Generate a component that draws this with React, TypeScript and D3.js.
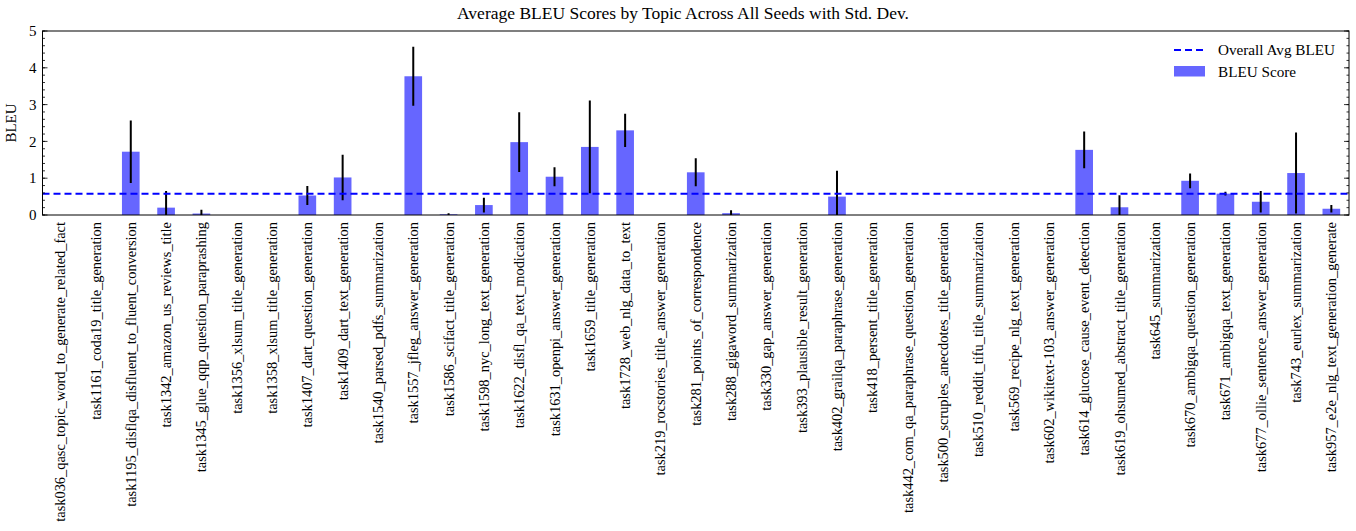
import * as d3 from 'd3';

const topics = [
  'task036_qasc_topic_word_to_generate_related_fact',
  'task1161_coda19_title_generation',
  'task1195_disflqa_disfluent_to_fluent_conversion',
  'task1342_amazon_us_reviews_title',
  'task1345_glue_qqp_question_paraprashing',
  'task1356_xlsum_title_generation',
  'task1358_xlsum_title_generation',
  'task1407_dart_question_generation',
  'task1409_dart_text_generation',
  'task1540_parsed_pdfs_summarization',
  'task1557_jfleg_answer_generation',
  'task1586_scifact_title_generation',
  'task1598_nyc_long_text_generation',
  'task1622_disfl_qa_text_modication',
  'task1631_openpi_answer_generation',
  'task1659_title_generation',
  'task1728_web_nlg_data_to_text',
  'task219_rocstories_title_answer_generation',
  'task281_points_of_correspondence',
  'task288_gigaword_summarization',
  'task330_gap_answer_generation',
  'task393_plausible_result_generation',
  'task402_grailqa_paraphrase_generation',
  'task418_persent_title_generation',
  'task442_com_qa_paraphrase_question_generation',
  'task500_scruples_anecdotes_title_generation',
  'task510_reddit_tifu_title_summarization',
  'task569_recipe_nlg_text_generation',
  'task602_wikitext-103_answer_generation',
  'task614_glucose_cause_event_detection',
  'task619_ohsumed_abstract_title_generation',
  'task645_summarization',
  'task670_ambigqa_question_generation',
  'task671_ambigqa_text_generation',
  'task677_ollie_sentence_answer_generation',
  'task743_eurlex_summarization',
  'task957_e2e_nlg_text_generation_generate',
];

const bleu = [
  0, 0, 1.72, 0.2, 0.04, 0, 0, 0.53, 1.02, 0, 3.77, 0.02, 0.27, 1.98, 1.04, 1.85, 2.3, 0,
  1.16, 0.05, 0, 0, 0.5, 0, 0, 0, 0, 0, 0, 1.77, 0.21, 0, 0.93, 0.58, 0.36, 1.14, 0.17,
];

const bleuStd = [
  0, 0, 0.85, 0.45, 0.1, 0, 0, 0.26, 0.62, 0, 0.8, 0.03, 0.2, 0.81, 0.26, 1.26, 0.45, 0,
  0.38, 0.08, 0, 0, 0.7, 0, 0, 0, 0, 0, 0, 0.5, 0.33, 0, 0.2, 0.05, 0.29, 1.1, 0.1,
];

const overallAvg = 0.58;
const yTicks = [0, 1, 2, 3, 4, 5];

const W = 1356;
const H = 531;
const margin = { left: 42.5, right: 7, top: 31, bottom: 316 };
const serif = '"Liberation Serif", "Times New Roman", serif';

export default function App() {
  const x = d3.scaleBand<string>()
    .domain(topics)
    .range([margin.left, W - margin.right])
    .paddingInner(0.5)
    .paddingOuter(0.25);
  const y = d3.scaleLinear().domain([0, 5]).range([H - margin.bottom, margin.top]);
  const minor = d3.range(0, 5.001, 0.2);
  const x0 = margin.left;
  const x1 = W - margin.right;
  const y0 = y(0);
  const y1 = y(5);

  return (
    <svg width={W} height={H} style={{ position: 'absolute', left: 0, top: 0, background: '#fff' }}
      fontFamily={serif}>
      <defs>
        <clipPath id="plot">
          <rect x={x0} y={y1} width={x1 - x0} height={y0 - y1} />
        </clipPath>
      </defs>

      <text x={683} y={19} textAnchor="middle" fontSize={17.5}>
        Average BLEU Scores by Topic Across All Seeds with Std. Dev.
      </text>

      <g clipPath="url(#plot)">
        {topics.map((t, i) => (
          <rect key={t} x={x(t)} width={x.bandwidth()} y={y(bleu[i])} height={y0 - y(bleu[i])}
            fill="#6666ff" />
        ))}
        {topics.map((t, i) => bleuStd[i] > 0 && (
          <line key={t} x1={x(t)! + x.bandwidth() / 2} x2={x(t)! + x.bandwidth() / 2}
            y1={y(bleu[i] - bleuStd[i])} y2={y(bleu[i] + bleuStd[i])}
            stroke="#000" strokeWidth={2} />
        ))}
        <line x1={x0} x2={x1} y1={y(overallAvg)} y2={y(overallAvg)} stroke="#0000ff"
          strokeWidth={2} strokeDasharray="7,4" />
      </g>

      {/* spines */}
      <rect x={x0} y={y1} width={x1 - x0} height={y0 - y1} fill="none" stroke="#000" strokeWidth={1} />

      {/* y ticks, inward both sides */}
      {minor.map((v) => (
        <g key={v}>
          <line x1={x0} x2={x0 + 2.5} y1={y(v)} y2={y(v)} stroke="#000" strokeWidth={0.8} />
          <line x1={x1} x2={x1 - 2.5} y1={y(v)} y2={y(v)} stroke="#000" strokeWidth={0.8} />
        </g>
      ))}
      {yTicks.map((v) => (
        <g key={v}>
          <line x1={x0} x2={x0 + 5} y1={y(v)} y2={y(v)} stroke="#000" strokeWidth={0.8} />
          <line x1={x1} x2={x1 - 5} y1={y(v)} y2={y(v)} stroke="#000" strokeWidth={0.8} />
          <text x={x0 - 6} y={y(v)} dy="0.35em" textAnchor="end" fontSize={15}>{v}</text>
        </g>
      ))}

      <text transform={`translate(16,${(y0 + y1) / 2}) rotate(-90)`} textAnchor="middle" fontSize={15}>
        BLEU
      </text>

      {/* x tick labels */}
      {topics.map((t) => (
        <text key={t} transform={`translate(${x(t)! + x.bandwidth() / 2},${y0 + 7}) rotate(-90)`}
          textAnchor="end" dy="0.35em" fontSize={14.4}>
          {t}
        </text>
      ))}

      {/* legend */}
      <g>
        <line x1={1174} x2={1205} y1={50} y2={50} stroke="#0000ff" strokeWidth={2} strokeDasharray="7,4" />
        <text x={1218} y={50} dy="0.35em" fontSize={15.2}>Overall Avg BLEU</text>
        <rect x={1174} y={66} width={31} height={10.5} fill="#6666ff" />
        <text x={1218} y={72} dy="0.35em" fontSize={15.2}>BLEU Score</text>
      </g>
    </svg>
  );
}
